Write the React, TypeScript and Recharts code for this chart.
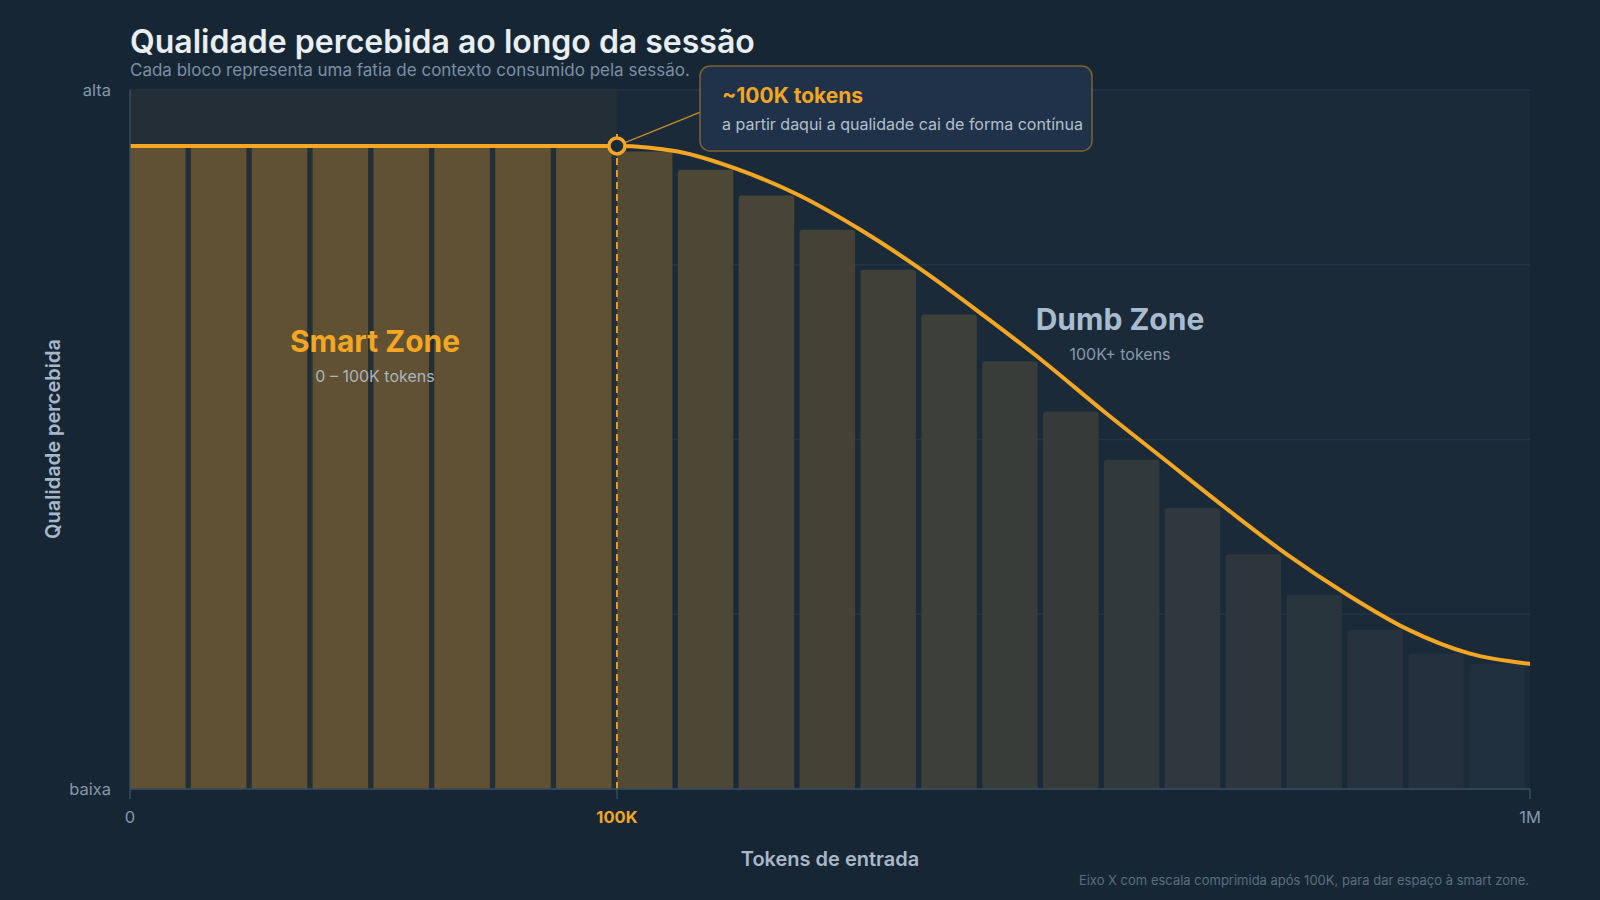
import React from 'react'
import {
  ComposedChart,
  Bar,
  Cell,
  Line,
  XAxis,
  YAxis,
  CartesianGrid,
  ReferenceArea,
  ReferenceLine,
  ReferenceDot,
  Rectangle,
} from 'recharts'

// blocks of context, left to right (8 in the smart zone, 15 after 100K)
const smartBlocks = [0.92, 0.92, 0.92, 0.92, 0.92, 0.92, 0.92, 0.92]
const dumbBlocks = [
  0.912, 0.886, 0.849, 0.8, 0.743, 0.679, 0.612, 0.54, 0.471, 0.402, 0.336,
  0.278, 0.228, 0.194, 0.179,
]

// quality curve, sampled on block edges (0 = start, 8 = 100K, 23 = 1M)
const curvePos = [0, 8, 9, 10, 11, 12, 13, 14, 15, 16, 17, 18, 19, 20, 21, 22, 23]
const curveQuality = [
  0.92, 0.92, 0.912, 0.886, 0.849, 0.8, 0.743, 0.679, 0.612, 0.54, 0.471,
  0.402, 0.336, 0.278, 0.228, 0.194, 0.179,
]

const xTicks = [0, 8, 23]
const xTickLabels = ['0', '100K', '1M']
const yTicks = [0, 0.25, 0.5, 0.75, 1]
const yTickLabels = ['baixa', '', '', '', 'alta']

const BREAK_POS = 8
const CALLOUT_ANCHOR = { x: 9.36, y: 0.968 }

const ORANGE = '#f5a623'
const PAGE_BG = '#172635'
const PLOT_BG = '#1b2a39'
const SMART_BG = '#242e36'
const GRID = '#243445'
const AXIS = '#384b61'
const MUTED = '#8597ab'
const SMART_FILL = '#5f5132'
const FADE_FROM = [83, 74, 52]
const FADE_TO = [32, 48, 63]
const BLOCK_GAP = 5.5

const blockRows = [...smartBlocks, ...dumbBlocks].map((q, i) => ({
  block: i + 1,
  quality: q,
}))
const curveRows = curvePos.map((p, i) => ({ pos: p, quality: curveQuality[i] }))

// blocks past 100K fade from brown toward slate blue
function blockFill(i: number) {
  if (i < smartBlocks.length) return SMART_FILL
  const t = Math.pow((i - smartBlocks.length) / (dumbBlocks.length - 1), 0.8)
  const c = FADE_FROM.map((v, k) => Math.round(v + (FADE_TO[k] - v) * t))
  return `rgb(${c[0]}, ${c[1]}, ${c[2]})`
}

// blocks sit flush with the left edge of their slot, gap on the right
function BlockShape(props: any) {
  const { x, y, width, height, fill } = props
  return (
    <Rectangle
      x={x}
      y={y}
      width={width - BLOCK_GAP}
      height={height}
      radius={[3, 3, 0, 0]}
      fill={fill}
    />
  )
}

function TokenTick(props: any) {
  const { x, y, payload } = props
  const idx = xTicks.indexOf(payload.value)
  const hl = payload.value === BREAK_POS
  return (
    <text
      x={x}
      y={y}
      dy="0.71em"
      textAnchor="middle"
      fontSize={16.5}
      fontFamily="Inter"
      fontWeight={hl ? 700 : 400}
      fill={hl ? ORANGE : MUTED}
    >
      {xTickLabels[idx]}
    </text>
  )
}

function LevelTick(props: any) {
  const { x, y, payload } = props
  const idx = yTicks.indexOf(payload.value)
  return (
    <text
      x={x}
      y={y}
      dy="0.35em"
      textAnchor="end"
      fontSize={16.5}
      fontFamily="Inter"
      fill={MUTED}
    >
      {yTickLabels[idx]}
    </text>
  )
}

export default function App() {
  return (
    <div
      style={{
        position: 'absolute',
        left: 0,
        top: 0,
        width: 1600,
        height: 900,
        background: PAGE_BG,
        overflow: 'hidden',
        fontFamily: 'Inter, sans-serif',
      }}
    >
      <ComposedChart
        width={1600}
        height={900}
        data={blockRows}
        barCategoryGap={0}
        margin={{ top: 90, right: 70, bottom: 81, left: 0 }}
      >
        <CartesianGrid
          vertical={false}
          stroke={GRID}
          strokeWidth={1.5}
          fill={PLOT_BG}
          fillOpacity={1}
        />
        <XAxis
          xAxisId="num"
          dataKey="pos"
          type="number"
          domain={[0, 23]}
          ticks={xTicks}
          tick={<TokenTick />}
          tickSize={10}
          tickMargin={12}
          stroke={AXIS}
          strokeWidth={1.5}
          allowDataOverflow
        />
        <XAxis xAxisId="cat" dataKey="block" type="category" orientation="top" hide />
        <YAxis
          domain={[0, 1]}
          ticks={yTicks}
          width={130}
          tick={<LevelTick />}
          tickSize={0}
          tickMargin={19}
          tickLine={false}
          stroke={AXIS}
          strokeWidth={1.5}
        />
        <ReferenceArea
          xAxisId="num"
          x1={0}
          x2={BREAK_POS}
          fill={SMART_BG}
          fillOpacity={1}
          stroke="none"
        />
        <Bar
          xAxisId="cat"
          dataKey="quality"
          shape={<BlockShape />}
          isAnimationActive={false}
        >
          {blockRows.map((r, i) => (
            <Cell key={r.block} fill={blockFill(i)} />
          ))}
        </Bar>
        <ReferenceLine
          xAxisId="num"
          segment={[
            { x: BREAK_POS, y: 0 },
            { x: BREAK_POS, y: 0.943 },
          ]}
          stroke={ORANGE}
          strokeWidth={1.8}
          strokeDasharray="7 5"
        />
        <Line
          xAxisId="num"
          data={curveRows}
          dataKey="quality"
          type="monotone"
          stroke={ORANGE}
          strokeWidth={4}
          strokeLinecap="round"
          dot={false}
          activeDot={false}
          isAnimationActive={false}
        />
        <ReferenceLine
          xAxisId="num"
          segment={[
            { x: BREAK_POS, y: curveQuality[1] },
            { x: CALLOUT_ANCHOR.x, y: CALLOUT_ANCHOR.y },
          ]}
          stroke={ORANGE}
          strokeOpacity={0.8}
          strokeWidth={1.2}
          ifOverflow="visible"
        />
        <ReferenceDot
          xAxisId="num"
          x={BREAK_POS}
          y={curveQuality[1]}
          r={8}
          fill="#1a2a3a"
          stroke={ORANGE}
          strokeWidth={3.5}
        />
      </ComposedChart>

      <svg
        width={1600}
        height={900}
        style={{ position: 'absolute', left: 0, top: 0, pointerEvents: 'none' }}
        fontFamily="Inter"
      >
        <text x={130} y={53} fontSize={32} fontWeight={600} fill="#e9eef3">
          Qualidade percebida ao longo da sessão
        </text>
        <text x={130} y={76} fontSize={17} fill="#7c8fa3">
          Cada bloco representa uma fatia de contexto consumido pela sessão.
        </text>

        <rect
          x={700}
          y={66}
          width={392}
          height={85}
          rx={10}
          fill="#1f3249"
          stroke="#7d6331"
          strokeWidth={1.5}
        />
        <text x={722} y={103} fontSize={21} fontWeight={700} fill={ORANGE}>
          ~100K tokens
        </text>
        <text x={722} y={130} fontSize={16} fill="#b4c0cc">
          a partir daqui a qualidade cai de forma contínua
        </text>

        <text x={375} y={352} fontSize={30} fontWeight={700} fill={ORANGE} textAnchor="middle">
          Smart Zone
        </text>
        <text x={375} y={382} fontSize={16} fill="#aab4bf" textAnchor="middle">
          0 – 100K tokens
        </text>
        <text x={1120} y={330} fontSize={30} fontWeight={700} fill="#a9bccf" textAnchor="middle">
          Dumb Zone
        </text>
        <text x={1120} y={360} fontSize={16} fill="#8799ab" textAnchor="middle">
          100K+ tokens
        </text>

        <text
          x={53}
          y={439}
          fontSize={20}
          fontWeight={600}
          fill="#a9b8c8"
          textAnchor="middle"
          dominantBaseline="central"
          transform="rotate(-90 53 439)"
        >
          Qualidade percebida
        </text>
        <text x={830} y={866} fontSize={20} fontWeight={600} fill="#a9b8c8" textAnchor="middle">
          Tokens de entrada
        </text>
        <text x={1529} y={885} fontSize={13} fill="#5b6e80" textAnchor="end">
          Eixo X com escala comprimida após 100K, para dar espaço à smart zone.
        </text>
      </svg>
    </div>
  )
}
